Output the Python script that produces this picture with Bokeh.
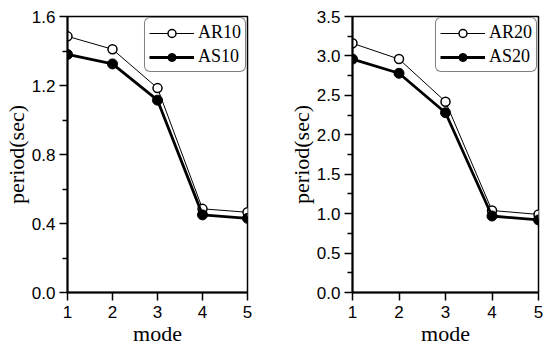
from bokeh.plotting import figure
from bokeh.layouts import row
from bokeh.models import Range1d, FixedTicker, Legend, LegendItem, NumeralTickFormatter
from bokeh.embed import file_html
from bokeh.resources import INLINE

modes = [1, 2, 3, 4, 5]
ar10 = [1.485, 1.41, 1.185, 0.485, 0.465]
as10 = [1.38, 1.325, 1.115, 0.45, 0.43]
ar20 = [3.16, 2.96, 2.42, 1.04, 0.99]
as20 = [2.96, 2.78, 2.28, 0.97, 0.92]

left_yticks = [0.0, 0.4, 0.8, 1.2, 1.6]
left_yminor = [0.2, 0.6, 1.0, 1.4]
right_yticks = [0.0, 0.5, 1.0, 1.5, 2.0, 2.5, 3.0, 3.5]
right_yminor = [0.25, 0.75, 1.25, 1.75, 2.25, 2.75, 3.25]

SANS = "Liberation Sans"
SERIF = "Liberation Serif"


def make(ar, as_, ymax, yticks, yminor, name_r, name_s, bl, br):
    p = figure(width=272, height=348, output_backend="svg", toolbar_location=None,
               x_range=Range1d(1, 5), y_range=Range1d(0, ymax),
               min_border_left=bl, min_border_right=br, min_border_top=16,
               min_border_bottom=55)
    p.xgrid.visible = False
    p.ygrid.visible = False
    p.outline_line_color = "black"
    p.outline_line_width = 1.5
    p.outline_line_alpha = 1

    lr = p.line(modes, ar, line_color="black", line_width=1)
    sr = p.scatter(modes, ar, size=9, marker="circle", fill_color="white",
                   line_color="black", line_width=1.5)
    ls = p.line(modes, as_, line_color="black", line_width=2.8)
    ss = p.scatter(modes, as_, size=10, marker="circle", fill_color="black",
                   line_color="black")

    for ax in (p.xaxis[0], p.yaxis[0]):
        ax.axis_line_width = 2
        ax.major_tick_in = 0
        ax.major_tick_out = 8
        ax.minor_tick_in = 0
        ax.minor_tick_out = 5
        ax.major_tick_line_width = 1.5
        ax.minor_tick_line_width = 1.5
        ax.major_label_text_font = SANS
        ax.major_label_text_font_size = "17px"
        ax.major_label_text_color = "black"
        ax.axis_label_text_font = SERIF
        ax.axis_label_text_font_size = "22px"
        ax.axis_label_text_font_style = "normal"
        ax.axis_label_text_color = "black"

    p.xaxis.ticker = FixedTicker(ticks=modes)
    p.xaxis.axis_label = "mode"
    p.xaxis.axis_label_standoff = 0
    p.xaxis.major_label_standoff = 5
    p.yaxis.ticker = FixedTicker(ticks=yticks, minor_ticks=yminor)
    p.yaxis.formatter = NumeralTickFormatter(format="0.0")
    p.yaxis.axis_label = "period(sec)"
    p.yaxis.axis_label_standoff = 0
    p.yaxis.major_label_standoff = 4

    legend = Legend(items=[LegendItem(label=name_r, renderers=[lr, sr]),
                           LegendItem(label=name_s, renderers=[ls, ss])],
                    location="top_right", margin=1, padding=4, spacing=3,
                    glyph_width=45, glyph_height=20, label_height=20,
                    label_standoff=4, label_text_font=SERIF,
                    label_text_font_size="18px", label_text_color="black",
                    border_line_color="black", border_line_width=1,
                    background_fill_alpha=1)
    try:
        legend.border_radius = 6
    except Exception:
        pass
    p.add_layout(legend)
    return p


p1 = make(ar10, as10, 1.6, left_yticks, left_yminor, "AR10", "AS10", 64, 25)
p2 = make(ar20, as20, 3.5, right_yticks, right_yminor, "AR20", "AS20", 80, 6)
layout = row(p1, p2)
open("out.html", "w").write(file_html(layout, INLINE))
